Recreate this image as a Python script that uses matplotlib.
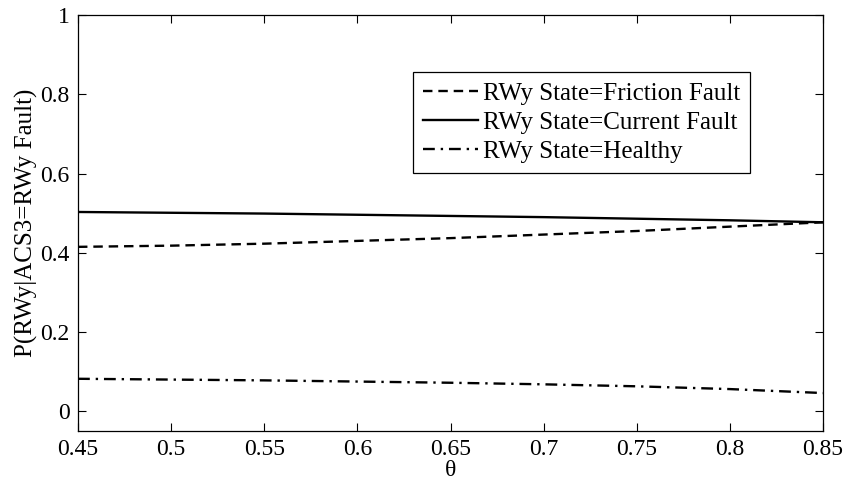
import matplotlib
matplotlib.use("Agg")
import matplotlib.pyplot as plt

theta = [0.45, 0.50, 0.55, 0.60, 0.65, 0.70, 0.75, 0.80, 0.85]
friction_fault = [0.415, 0.418, 0.423, 0.430, 0.437, 0.446, 0.455, 0.466, 0.477]
current_fault = [0.503, 0.501, 0.499, 0.496, 0.493, 0.490, 0.486, 0.482, 0.477]
healthy = [0.082, 0.080, 0.078, 0.075, 0.072, 0.068, 0.063, 0.056, 0.046]

xticks = [0.45, 0.5, 0.55, 0.6, 0.65, 0.7, 0.75, 0.8, 0.85]
xtick_labels = ["0.45", "0.5", "0.55", "0.6", "0.65", "0.7", "0.75", "0.8", "0.85"]
yticks = [0, 0.2, 0.4, 0.6, 0.8, 1]
ytick_labels = ["0", "0.2", "0.4", "0.6", "0.8", "1"]

plt.rcParams["font.family"] = ["Liberation Serif", "DejaVu Serif"]
plt.rcParams["font.size"] = 17

fig = plt.figure(figsize=(8.45, 4.86), dpi=100)
ax = fig.add_axes([0.0923, 0.113, 0.8817, 0.856])

ax.plot(theta, friction_fault, color="black", linestyle=(0, (4, 2.5)), linewidth=1.7,
        label="RWy State=Friction Fault")
ax.plot(theta, current_fault, color="black", linestyle="-", linewidth=1.7,
        label="RWy State=Current Fault")
ax.plot(theta, healthy, color="black", linestyle=(0, (5, 2.5, 1, 2.5)), linewidth=1.7,
        label="RWy State=Healthy")

ax.set_xlim(0.45, 0.85)
ax.set_ylim(-0.05, 1)
ax.set_xticks(xticks)
ax.set_xticklabels(xtick_labels)
ax.set_yticks(yticks)
ax.set_yticklabels(ytick_labels)
ax.tick_params(direction="in", length=6, width=0.8, top=True, right=True, labelsize=17, pad=6)
for s in ax.spines.values():
    s.set_linewidth(0.9)

ax.set_xlabel("θ", fontsize=17, labelpad=0)
ax.set_ylabel("P(RWy|ACS3=RWy Fault)", fontsize=18, labelpad=2)

leg = ax.legend(loc="upper left", bbox_to_anchor=(0.4497, 0.863), frameon=True, fancybox=False,
                edgecolor="black", framealpha=1, fontsize=18, handlelength=2.2,
                handletextpad=0.2, borderpad=0.4, labelspacing=0.26, borderaxespad=0)
leg.get_frame().set_linewidth(0.9)

fig.savefig("out.png", dpi=100)
